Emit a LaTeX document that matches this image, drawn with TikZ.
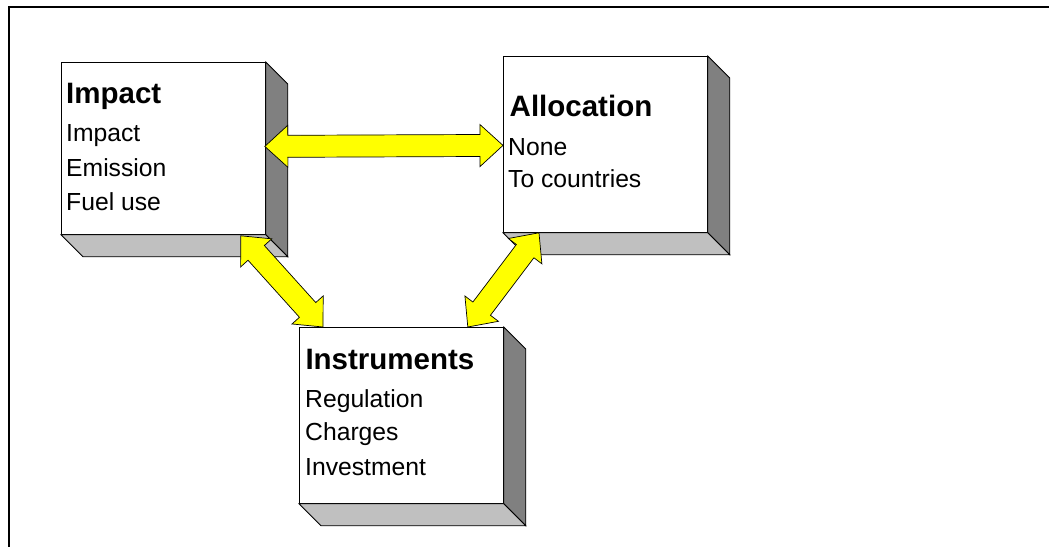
\documentclass[tikz,border=0pt]{standalone}
\usepackage{fontspec}
\setmainfont{Liberation Sans}
\usetikzlibrary{calc}
\definecolor{sidegray}{HTML}{808080}
\definecolor{bottomgray}{HTML}{C0C0C0}
\definecolor{arrowyellow}{HTML}{FFFF00}
\tikzset{
  front/.style={draw=black, line width=0.8pt, fill=white, inner sep=0pt, anchor=north west},
  sideface/.style={draw=black, line width=0.8pt, fill=sidegray, line join=miter},
  bottomface/.style={draw=black, line width=0.8pt, fill=bottomgray, line join=miter},
  headtxt/.style={inner sep=0pt, anchor=base west, font=\fontsize{29.5}{32}\selectfont\bfseries},
  itemtxt/.style={inner sep=0pt, anchor=base west, font=\fontsize{24.7}{28}\selectfont},
  yarrow/.style={draw=black, line width=0.7pt, fill=arrowyellow, line join=miter},
  frameline/.style={line width=2.2pt, line join=miter}
}
\newcommand\bevelbox[5]{%
  \node[front, minimum width=#4pt, minimum height=#5pt] (#1) at (#2,#3) {};
  \draw[sideface] (#1.north east) -- ++(22,22) -- ($(#1.south east)+(22,22)$) -- (#1.south east) -- cycle;
  \draw[bottomface] (#1.south west) -- (#1.south east) -- ++(22,22) -- ($(#1.south west)+(22,22)$) -- cycle;
}
\newcommand\dblarrow[2]{%
  \draw[yarrow] (#1)
   -- ($(#1)!23pt!(#2)!21pt!90:(#2)$)
   -- ($(#1)!23pt!(#2)!11pt!90:(#2)$)
   -- ($(#2)!23pt!(#1)!11pt!-90:(#1)$)
   -- ($(#2)!23pt!(#1)!21pt!-90:(#1)$)
   -- (#2)
   -- ($(#2)!23pt!(#1)!21pt!90:(#1)$)
   -- ($(#2)!23pt!(#1)!11pt!90:(#1)$)
   -- ($(#1)!23pt!(#2)!11pt!-90:(#2)$)
   -- ($(#1)!23pt!(#2)!21pt!-90:(#2)$)
   -- cycle;}
\begin{document}
\begin{tikzpicture}[x=1pt, y=-1pt]
  \path[use as bounding box] (0,0) rectangle (1049,546);
  % frame
  \coordinate (fbl) at (9,547);
  \coordinate (ftl) at (9,7);
  \coordinate (ftr) at (1050,7);
  \draw[frameline] (fbl) -- (ftl) -- (ftr);
  % boxes
  \bevelbox{imp}{61}{62}{204}{172}
  \bevelbox{alloc}{503}{56}{204}{176}
  \bevelbox{inst}{299}{327}{204}{176}
  % texts
  \node[headtxt] (impH) at (66,103.3) {Impact};
  \node[itemtxt] (impA) at (66,141.7) {Impact};
  \node[itemtxt] (impB) at (66,176) {Emission};
  \node[itemtxt] (impC) at (66,210) {Fuel use};
  \node[headtxt] (allocH) at (509.5,116.7) {Allocation};
  \node[itemtxt] (allocA) at (508,155) {None};
  \node[itemtxt] (allocB) at (508,187.7) {To countries};
  \node[headtxt] (instH) at (305.3,369) {Instruments};
  \node[itemtxt] (instA) at (305,407.3) {Regulation};
  \node[itemtxt] (instB) at (305,440.7) {Charges};
  \node[itemtxt] (instC) at (305,475) {Investment};
  % arrow end points
  \coordinate (h1) at ($(imp.east)+(-1,-2)$);
  \coordinate (h2) at ($(alloc.west)+(0,1)$);
  \coordinate (d1a) at ($(imp.south east)+(-25,1)$);
  \coordinate (d1b) at ($(inst.north west)+(24,0)$);
  \coordinate (d2a) at ($(alloc.south west)+(36,0)$);
  \coordinate (d2b) at ($(inst.north east)+(-36,0)$);
  % arrows
  \dblarrow{h1}{h2}
  \dblarrow{d1a}{d1b}
  \dblarrow{d2a}{d2b}
\end{tikzpicture}
\end{document}
